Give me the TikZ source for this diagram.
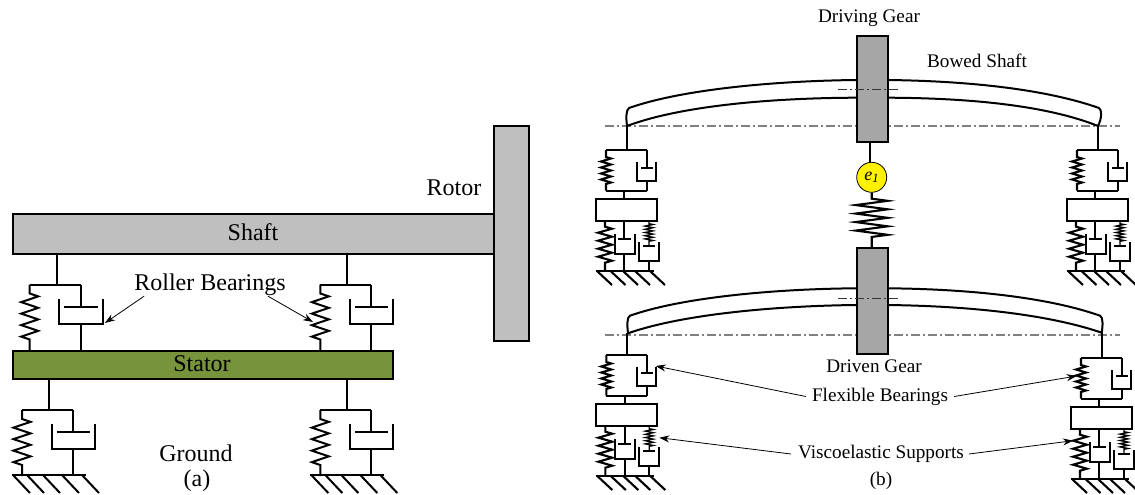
\documentclass[tikz,border=0pt]{standalone}
\usepackage{fontspec}
\setmainfont{Liberation Serif}
\usetikzlibrary{arrows.meta, positioning, calc, decorations.pathmorphing}
\definecolor{cShaft}{HTML}{BFBFBF}
\definecolor{cStator}{HTML}{77933C}
\definecolor{cGear}{HTML}{A6A6A6}
\definecolor{cAxis}{HTML}{808080}
\begin{document}
\begin{tikzpicture}[
  x=1pt, y=-1pt,
  every node/.style={inner sep=0pt},
  biglabel/.style={font=\fontsize{24}{24}\selectfont},
  smalllabel/.style={font=\fontsize{19.2}{19.2}\selectfont},
  plate/.style={draw=black, line width=2pt, fill=#1, minimum height=10pt, anchor=north west},
  mech/.style={draw=black, line width=2pt},
  mechb/.style={draw=black, line width=2.1pt},
  leader/.style={-{Stealth[length=10pt, width=7pt]}, line width=0.8pt},
  axisline/.style={draw=cAxis, line width=1.1pt, dash pattern=on 9pt off 3pt on 2pt off 3pt},
  coil/.style args={#1/#2/#3/#4}{decorate, decoration={zigzag, segment length=#1, amplitude=#2, pre length=#3, post length=#4}},
  % spring and damper of the left picture, origin on top of the stem
  mountA/.pic={
    \draw[mech] (0,0) -- (0,32) (-27,32) -- (24,32);
    \draw[mech, coil=11.5pt/8.5pt/9pt/8pt] (-27,32) -- (-27,98);
    \draw[mech] (24,32) -- (24,54) (7.5,54) -- (41,54);
    \draw[mech] (2.5,46) -- (2.5,71) -- (46,71) -- (46,46);
    \draw[mech] (24,71) -- (24,98);
  },
  groundA/.pic={
    \draw[mech] (-37,0) -- (37,0);
    \foreach \hx in {-36,-22,-6,13,33} \draw[mech] (\hx,0) -- ++(17,18);
  },
  % bearing, mass and viscoelastic support of the right picture
  mountB/.pic={
    \draw[mechb] (-21,0) -- (20,0);
    \draw[mechb, coil=6pt/5pt/7pt/6pt] (-21,0) -- (-21,40.7);
    \draw[mechb] (-21,40.7) -- (20,40.7);
    \draw[mechb] (20,0) -- (20,17.7) (14,17.7) -- (26,17.7);
    \draw[mechb] (10,11.7) -- (10,31) -- (29,31) -- (29,11.7);
    \draw[mechb] (20,31) -- (20,40.7) (-2.7,40.7) -- (-2.7,49);
    \draw[mechb] (-31.3,49) rectangle (29.7,70.7);
    \draw[mechb, coil=8pt/7pt/6pt/5pt] (-22,70.7) -- (-22,121);
    \draw[mechb] (-2.7,70.7) -- (-2.7,89) (-9,89) -- (4,89);
    \draw[mechb] (-12,84) -- (-12,104.3) -- (8,104.3) -- (8,84);
    \draw[mechb] (-2.7,104.3) -- (-2.7,121);
    \draw[mechb, line width=1.3pt, coil=3.2pt/4pt/3pt/4pt] (22,70.7) -- (22,95.7);
    \draw[mechb] (16,95.7) -- (28,95.7);
    \draw[mechb] (12,91.7) -- (12,111) -- (32,111) -- (32,91.7);
    \draw[mechb] (22,111) -- (22,121);
    \draw[mechb] (-31.3,121) -- (27,121);
    \foreach \hx in {-30,-16.5,-4,8,23} \draw[mechb] (\hx,121) -- ++(15,14);
  },
]
\useasboundingbox (0,0) rectangle (1135,495);

% Left picture
\node[plate=cShaft, minimum width=481pt, minimum height=39.5pt] (shaft) at (12,213) {};
\node[plate=cShaft, minimum width=35.5pt, minimum height=215pt] (rotor) at (492.7,125) {};
\node[plate=cStator, minimum width=380pt, minimum height=28pt] (stator) at (12,350) {};

\pic at (56.7,252.5) {mountA};
\pic at (347.3,252.5) {mountA};
\pic at (49,378) {mountA};
\pic at (347.3,378) {mountA};
\pic at (49,475) {groundA};
\pic at (347.3,475) {groundA};

% Left labels
\node[biglabel] (shafttxt) at (253,232) {Shaft};
\node[biglabel] (statortxt) at (202,364) {Stator};
\node[biglabel] (rotortxt) at (454,188) {Rotor};
\node[biglabel] (rollertxt) at (210,285) {Roller Bearings};
\node[biglabel] (groundtxt) at (196,453) {Ground};
\node[biglabel] (atxt) at (197,481) {(a)};

\coordinate (rollerL) at (105,323);
\coordinate (rollerR) at (313,322);
\draw[leader] ([xshift=10pt]rollertxt.south west) -- (rollerL);
\draw[leader] ([xshift=-18pt]rollertxt.south east) -- (rollerR);

% Right picture: axes, then shafts, then gears
\draw[axisline] (605,126) -- (1120,126);
\draw[axisline] (605,335) -- (1120,335);

\draw[mechb, line width=2pt] (856,80) .. controls (770,81) and (680,90) .. (629,108)
  .. controls (626,110) and (626,118) .. (627,126)
  .. controls (680,106) and (770,98) .. (856,97.7);
\draw[mechb, line width=2pt] (887,80) .. controls (973,81) and (1048,90) .. (1099,108)
  .. controls (1102,110) and (1102,118) .. (1098,126)
  .. controls (1048,106) and (973,98) .. (887,97.7);
\draw[mechb, line width=2pt] (856,288.3) .. controls (770,289) and (680,298) .. (630,315.7)
  .. controls (627,317) and (627,325) .. (628,333.3)
  .. controls (680,315) and (770,306) .. (856,305);
\draw[mechb, line width=2pt] (887,288.3) .. controls (973,289) and (1050,298) .. (1100,315.7)
  .. controls (1103,317) and (1103,325) .. (1101.7,332.7)
  .. controls (1050,315) and (973,306) .. (887,305);

\node[plate=cGear, minimum width=30.7pt, minimum height=106pt] (drivegear) at (856,35) {};
\node[plate=cGear, minimum width=30.7pt, minimum height=105.4pt] (drivengear) at (856,247.3) {};

\draw[axisline, draw=black!80] (838,89.7) -- (900,89.7);
\draw[axisline, draw=black!80] (838,298.3) -- (900,298.3);

\node[circle, draw=black, line width=0.8pt, fill=yellow, minimum size=30pt] (ecc) at (871.7,177.3)
  {\fontsize{18}{18}\selectfont\itshape e\textsubscript{1}};
\draw[mechb] (drivegear.south -| 870,0) -- (ecc.north -| 870,0);
\draw[mechb, coil=8.5pt/16pt/6pt/7pt] (ecc.south) -- (ecc.south |- drivengear.north);

\draw[mechb] (627,126) -- (627,150);
\draw[mechb] (1098,126) -- (1098,150);
\draw[mechb] (627.3,333.3) -- (627.3,355);
\draw[mechb] (1102,332.7) -- (1102,358);
\pic at (627,150) {mountB};
\pic at (1098,150) {mountB};
\pic at (627.3,355) {mountB};
\pic at (1102,358) {mountB};

% Right labels
\node[smalllabel] (drivetxt) at (869,18) {Driving Gear};
\node[smalllabel] (bowedtxt) at (977,61) {Bowed Shaft};
\node[smalllabel] (driventxt) at (874,366.5) {Driven Gear};
\node[smalllabel] (flextxt) at (880,396.5) {Flexible Bearings};
\node[smalllabel] (viscotxt) at (881,454) {Viscoelastic Supports};
\node[smalllabel] (btxt) at (881,480.5) {(b)};

\coordinate (flexL) at (655.7,366);
\coordinate (flexR) at (1076.7,376);
\coordinate (viscoL) at (659.3,437.7);
\coordinate (viscoR) at (1073,440.7);
\draw[leader] ([xshift=-6pt]flextxt.west) -- (flexL);
\draw[leader] ([xshift=6pt]flextxt.east) -- (flexR);
\draw[leader] ([xshift=-7pt]viscotxt.west) -- (viscoL);
\draw[leader] ([xshift=5pt]viscotxt.east) -- (viscoR);

\end{tikzpicture}
\end{document}
